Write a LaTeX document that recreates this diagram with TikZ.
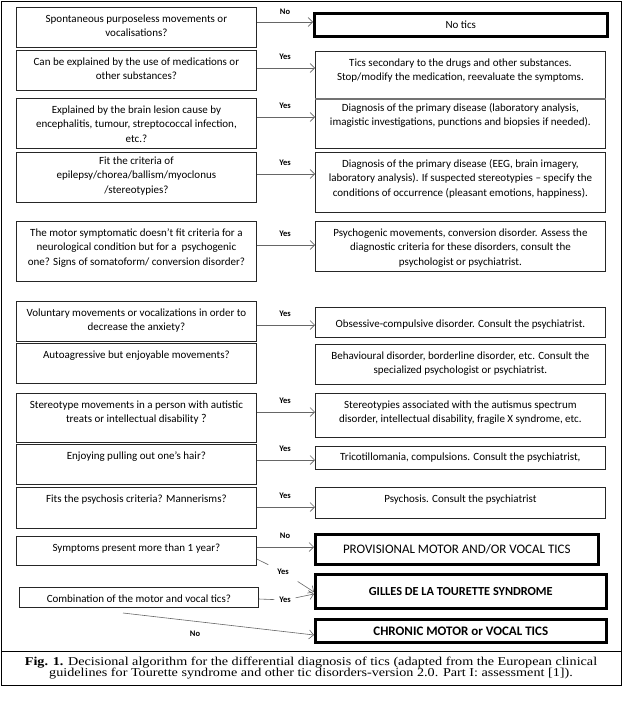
\documentclass[tikz,border=0pt]{standalone}
\usepackage{fontspec}
\setmainfont{Carlito}
\newfontfamily\capfont[FakeStretch=1.18]{Liberation Serif}
\usepackage{tikz}
\usetikzlibrary{arrows.meta}
% box text: height, width, text (optional top strut)
\newcommand{\qtxt}[4][15]{\parbox[c][#2pt][t]{#3pt}{\centering\rule{0pt}{#1pt}#4}}

\begin{document}
\begin{tikzpicture}[x=1pt, y=-1pt,
    every node/.style={inner sep=0pt},
    qbox/.style={draw=black!85, line width=0.8pt, anchor=north west,
                 font=\fontsize{11}{14.3}\selectfont},
    tbox/.style={draw=black, line width=2.6pt, anchor=north west},
    arr/.style={draw=black!60, line width=0.6pt,
                -{Straight Barb[length=4.5pt,width=9pt]}},
    lbl/.style={font=\fontsize{8.5}{10}\selectfont\bfseries, outer sep=1pt}]
  \useasboundingbox (0,0) rectangle (624,704);
  % frame and caption rule
  \draw[line width=0.8pt] (1,1) rectangle (621,685);
  \draw[line width=0.8pt] (1,651) -- (621,651);

  % questions
  \node[qbox] (q1) at (16,7) {\qtxt{40}{240}{Spontaneous purposeless movements or\\ vocalisations?}};
  \node[qbox] (q2) at (16,50) {\qtxt{40}{240}{Can be explained by the use of medications or\\ other substances?}};
  \node[qbox] (q3) at (16,98) {\qtxt{50}{240}{Explained by the brain lesion cause by\\ encephalitis, tumour, streptococcal infection,\\ etc.?}};
  \node[qbox] (q4) at (16,152) {\qtxt[12]{50}{240}{Fit the criteria of\\ epilepsy/chorea/ballism/myoclonus\\ /stereotypies?}};
  \node[qbox] (q5) at (16,221) {\qtxt{60}{240}{The motor symptomatic doesn’t fit criteria for a\\ neurological condition but for a\ \ psychogenic\\ one? Signs of somatoform/ conversion disorder?}};
  \node[qbox] (q6) at (16,301) {\qtxt{40}{240}{Voluntary movements or vocalizations in order to\\ decrease the anxiety?}};
  \node[qbox] (q7) at (16,343) {\qtxt{40}{240}{Autoagressive but enjoyable movements?}};
  \node[qbox] (q8) at (16,393) {\qtxt{49}{240}{Stereotype movements in a person with autistic\\ treats or intellectual disability {\large ?}}};
  \node[qbox] (q9) at (16,444) {\qtxt{40}{240}{Enjoying pulling out one’s hair?}};
  \node[qbox] (q10) at (16,487) {\qtxt{41}{240}{Fits the psychosis criteria? Mannerisms?}};
  \node[qbox] (q11) at (16,536) {\qtxt{29}{240}{Symptoms present more than 1 year?}};
  \node[qbox] (q12) at (19,587) {\qtxt{20}{239}{Combination of the motor and vocal tics?}};

  % outcomes
  \node[tbox, minimum width=293pt, minimum height=23pt,
        font=\fontsize{11}{12}\selectfont] (r1) at (313,12) {No tics};
  \node[qbox] (r2) at (315,51) {\qtxt{48}{290}{Tics secondary to the drugs and other substances.\\ Stop/modify the medication, reevaluate the symptoms.}};
  \node[qbox] (r3) at (315,99) {\qtxt[12]{49}{290}{Diagnosis of the primary disease (laboratory analysis,\\ imagistic investigations, punctions and biopsies if needed).}};
  \draw[black!55, line width=2pt] (r3.north west) -- (r3.north east);
  \node[qbox] (r4) at (315,152) {\qtxt{60}{290}{Diagnosis of the primary disease (EEG, brain imagery,\\ laboratory analysis). If suspected stereotypies -- specify the\\ conditions of occurrence (pleasant emotions, happiness).}};
  \node[qbox] (r5) at (315,221) {\qtxt{50}{290}{Psychogenic movements, conversion disorder. Assess the\\ diagnostic criteria for these disorders, consult the\\ psychologist or psychiatrist.}};
  \node[qbox] (r6) at (315,307) {\qtxt[20]{30}{290}{Obsessive-compulsive disorder. Consult the psychiatrist.}};
  \node[qbox] (r7) at (315,344) {\qtxt{40}{290}{Behavioural disorder, borderline disorder, etc. Consult the\\ specialized psychologist or psychiatrist.}};
  \node[qbox] (r8) at (315,393) {\qtxt{44}{290}{Stereotypies associated with the autismus spectrum\\ disorder, intellectual disability, fragile X syndrome, etc.}};
  \node[qbox] (r9) at (315,446) {\qtxt[14]{23}{290}{Tricotillomania, compulsions. Consult the psychiatrist,}};
  \node[qbox] (r10) at (315,487) {\qtxt{31}{290}{Psychosis. Consult the psychiatrist}};
  \node[tbox, minimum width=283pt, minimum height=30pt,
        font=\fontsize{13}{14}\selectfont] (r11) at (314,533) {PROVISIONAL MOTOR AND/OR VOCAL TICS};
  \node[tbox, minimum width=291pt, minimum height=34pt,
        font=\fontsize{12.3}{14}\selectfont\bfseries] (r12) at (314,573) {GILLES DE LA TOURETTE SYNDROME};
  \node[tbox, minimum width=291pt, minimum height=23pt,
        font=\fontsize{13}{14}\selectfont\bfseries] (r13) at (314,618) {CHRONIC MOTOR or VOCAL TICS};

  % yes arrows
  \draw[arr] (q1.east |- 0,22) -- (r1.west |- 0,22);
  \node[lbl] (n1) at (285,12) {No};
  \foreach \n/\y in {2/68, 3/117, 4/174, 5/245, 6/325, 8/412, 9/460, 10/507} {
    \draw[arr] (q\n.east |- 0,\y) -- (r\n.west |- 0,\y);
    \node[lbl] (y\n) at (285,\y-11) {Yes};
  }

  % duration and combination
  \draw[arr] (q11.east |- 0,547) -- (r11.west |- 0,547);
  \node[lbl] (n11) at (285,536) {No};
  \node[lbl, outer sep=9pt] (y11) at (283,572) {Yes};
  \draw[black!60, line width=0.6pt] (q11.east |- 0,559) -- (y11);
  \draw[arr] (y11) -- (r12.west |- 0,592);
  \node[lbl, outer sep=5pt] (y12) at (285,600) {Yes};
  \draw[black!60, line width=0.6pt] (q12.east |- 0,599) -- (y12);
  \draw[arr] (y12) -- (r12.west |- 0,594);
  \coordinate (c12) at (123,613);
  \node[lbl] (n12) at (195,634) {No};
  \draw[arr] (c12) -- (r13.west |- 0,635);

  % caption
  \node[font=\capfont\fontsize{12}{11.5}\selectfont, align=center] (cap) at (311,668)
    {\textbf{Fig. 1.} Decisional algorithm for the differential diagnosis of tics (adapted from the European clinical\\
     guidelines for Tourette syndrome and other tic disorders-version 2.0. Part I: assessment [1]).};
\end{tikzpicture}
\end{document}
